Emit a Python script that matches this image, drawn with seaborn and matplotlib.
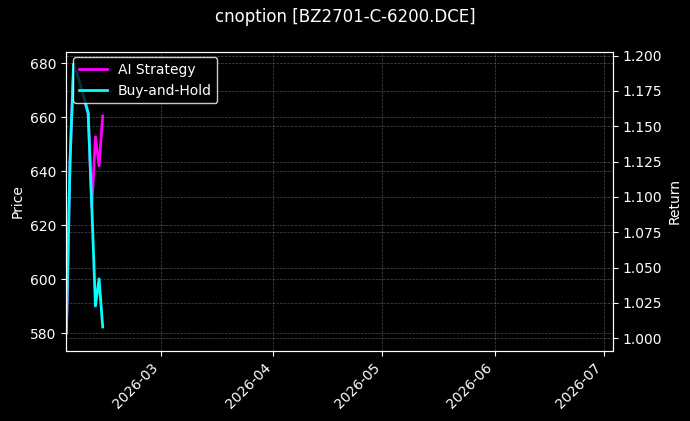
import matplotlib
matplotlib.use("Agg")
import matplotlib.pyplot as plt
import matplotlib.dates as mdates
import pandas as pd
import seaborn as sns

dates = ["2026-02-03", "2026-02-04", "2026-02-05", "2026-02-06", "2026-02-09",
         "2026-02-10", "2026-02-11", "2026-02-12", "2026-02-13"]
ai_strategy = [1.0038, 1.1250, 1.1941, 1.1870, 1.1594, 1.0929, 1.1425, 1.1220, 1.1573]
buy_and_hold = [1.0038, 1.1250, 1.1941, 1.1870, 1.1594, 1.0929, 1.0229, 1.0420, 1.0080]
x_start = "2026-02-03"
x_end = "2026-07-03 10:00"

plt.style.use("dark_background")
fig = plt.figure(figsize=(6.9, 4.21), dpi=100)
ax = fig.add_axes([0.0962, 0.1663, 0.7918, 0.7109])
ax2 = ax.twinx()

df = pd.DataFrame({"date": pd.to_datetime(dates), "AI Strategy": ai_strategy,
                   "Buy-and-Hold": buy_and_hold})
sns.lineplot(data=df, x="date", y="AI Strategy", ax=ax2, color="#ff00ff", lw=2, label="AI Strategy", legend=False)
sns.lineplot(data=df, x="date", y="Buy-and-Hold", ax=ax2, color="#00ffff", lw=2, label="Buy-and-Hold", legend=False)

ax.set_ylim(573.4, 684.3)
ax2.set_ylim(0.991, 1.2028)
ax.set_yticks([580, 600, 620, 640, 660, 680])
ax2.set_yticks([1.0, 1.025, 1.05, 1.075, 1.1, 1.125, 1.15, 1.175, 1.2])
ax2.yaxis.set_major_formatter(matplotlib.ticker.FormatStrFormatter("%.3f"))
ax.set_xlim(pd.Timestamp(x_start), pd.Timestamp(x_end))
ax.xaxis.set_major_locator(mdates.MonthLocator())
ax.xaxis.set_major_formatter(mdates.DateFormatter("%Y-%m"))
for lab in ax.get_xticklabels():
    lab.set_rotation(45)
    lab.set_ha("right")
ax2.set_xlabel("")
ax.set_xlabel("")
ax.set_ylabel("Price")
ax2.set_ylabel("Return")
ax.grid(True, linestyle="--", linewidth=0.5, alpha=0.3)
ax2.grid(True, linestyle="--", linewidth=0.5, alpha=0.3)

h, l = ax2.get_legend_handles_labels()
ax2.legend(h, l, loc="upper left", facecolor="black", edgecolor="white", framealpha=0.8,
           bbox_to_anchor=(0.0, 1.005))
fig.suptitle("cnoption [BZ2701-C-6200.DCE]", fontsize=12, y=0.98)
fig.savefig("out.png", dpi=100)
